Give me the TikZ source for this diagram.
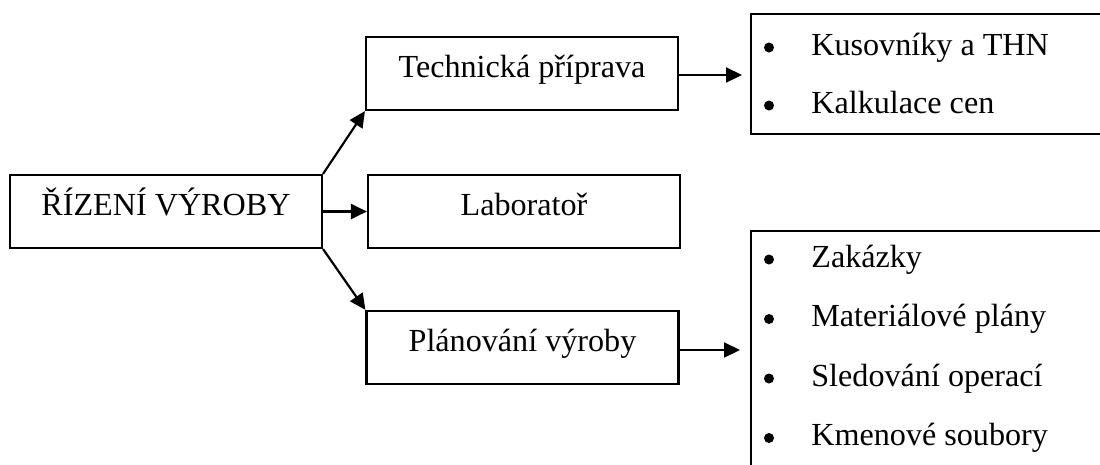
\documentclass[tikz,border=0pt]{standalone}
\usepackage{fontspec}
\setmainfont{Liberation Serif}
\usetikzlibrary{arrows.meta}
\begin{document}
\begin{tikzpicture}[x=0.02cm, y=-0.02cm,
  txt/.style={font=\fontsize{18.3}{22}\selectfont},
  box/.style={txt, draw, line width=1.25pt, inner sep=0pt,
    minimum width=6.24cm, text height=0.8cm, text depth=0.66cm},
  listbox/.style={draw, line width=1.25pt, inner sep=0pt, anchor=north west,
    minimum width=7.4cm},
  item/.style={txt, anchor=base west, inner sep=0pt},
  dot/.style={circle, fill, inner sep=0pt, minimum size=0.2cm},
  arr/.style={line width=1.25pt, -{Triangle[length=0.32cm, width=0.3cm]}}]
\useasboundingbox (0,0) rectangle (1100,464);
\clip (0,0) rectangle (1100,464);

% main blocks
\node[box] (rizeni) at (166,211.5) {ŘÍZENÍ VÝROBY};
\node[box] (tech)   at (522,73.5)  {Technická příprava};
\node[box] (lab)    at (524,211.5) {Laboratoř};
\node[box] (plan)   at (522.5,347.5) {Plánování výroby};

% detail boxes (open to the right and bottom)
\node[listbox, minimum height=2.4cm] (techlist) at (750,13) {};
\node[listbox, minimum height=5cm]   (planlist) at (750,230) {};

% items of the technical preparation
\node[dot]  (t1b) at (769,47.5) {};
\node[item] (t1)  at (811,55) {Kusovníky a THN};
\node[dot]  (t2b) at (769,105.5) {};
\node[item] (t2)  at (811,113) {Kalkulace cen};

% items of production planning
\node[dot]  (p1b) at (769,259.5) {};
\node[item] (p1)  at (811,267) {Zakázky};
\node[dot]  (p2b) at (769,319) {};
\node[item] (p2)  at (811,326.5) {Materiálové plány};
\node[dot]  (p3b) at (769,378.5) {};
\node[item] (p3)  at (811,386) {Sledování operací};
\node[dot]  (p4b) at (769,438) {};
\node[item] (p4)  at (811,445.5) {Kmenové soubory};

% connectors
\draw[arr] (rizeni.north east) -- (tech.south west);
\draw[arr] (rizeni.east) -- (lab.west);
\draw[arr] (rizeni.south east) -- (plan.north west);
\draw[arr, shorten >=0.16cm] ([yshift=-0.03cm]tech.east) -- ([yshift=-0.03cm]tech.east -| techlist.west);
\draw[arr, shorten >=0.2cm] ([yshift=-0.05cm]plan.east) -- ([yshift=-0.05cm]plan.east -| planlist.west);
\end{tikzpicture}
\end{document}
